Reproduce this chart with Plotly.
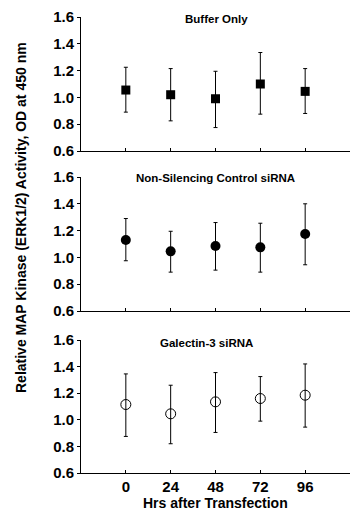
import plotly.graph_objects as go

hours = ["0", "24", "48", "72", "96"]

buffer_mean = [1.055, 1.02, 0.99, 1.10, 1.045]
buffer_hi = [1.225, 1.215, 1.195, 1.335, 1.215]
buffer_lo = [0.89, 0.825, 0.775, 0.875, 0.88]

nonsil_mean = [1.13, 1.045, 1.085, 1.075, 1.175]
nonsil_hi = [1.29, 1.195, 1.26, 1.255, 1.40]
nonsil_lo = [0.975, 0.89, 0.905, 0.89, 0.945]

gal_mean = [1.115, 1.045, 1.135, 1.16, 1.185]
gal_hi = [1.345, 1.26, 1.355, 1.325, 1.42]
gal_lo = [0.875, 0.82, 0.905, 0.99, 0.945]

panel_titles = ["Buffer Only", "Non-Silencing Control siRNA", "Galectin-3 siRNA"]
y_ticks = [0.6, 0.8, 1.0, 1.2, 1.4, 1.6]
y_ticklabels = ["0.6", "0.8", "1.0", "1.2", "1.4", "1.6"]

FONT = "Liberation Sans, Arial, sans-serif"
xs = list(range(len(hours)))

series = [
    (buffer_mean, buffer_hi, buffer_lo, dict(symbol="square", size=9, color="black")),
    (nonsil_mean, nonsil_hi, nonsil_lo, dict(symbol="circle", size=10, color="black")),
    (gal_mean, gal_hi, gal_lo, dict(symbol="circle-open", size=10, color="black", line=dict(width=1))),
]

fig = go.Figure()
for i, (m, hi, lo, mk) in enumerate(series):
    suffix = "" if i == 0 else str(i + 1)
    fig.add_trace(go.Scatter(
        x=xs, y=m, mode="markers", marker=mk,
        error_y=dict(type="data", symmetric=False,
                     array=[h - v for h, v in zip(hi, m)],
                     arrayminus=[v - l for l, v in zip(lo, m)],
                     color="black", thickness=1, width=2),
        xaxis="x" + suffix, yaxis="y" + suffix, showlegend=False,
    ))

# plot area: x 81..350, panels y 17-151, 177-311, 340-473
L, T, B = 81, 17, 473
H = B - T
W = 350 - L
def dom(top, bot):
    return [(B - bot) / H, (B - top) / H]

domains = [dom(17, 151), dom(177, 311), dom(340, 473)]

layout = dict(
    width=350, height=513,
    margin=dict(l=L, r=0, t=T, b=513 - B),
    paper_bgcolor="white", plot_bgcolor="white",
    font=dict(family=FONT, color="black"),
    showlegend=False,
)
for i in range(3):
    suffix = "" if i == 0 else str(i + 1)
    last = i == 2
    layout["xaxis" + suffix] = dict(
        range=[-1, 5], domain=[0, 1], anchor="y" + suffix,
        tickmode="array", tickvals=xs, ticktext=hours if last else [""] * 5,
        showticklabels=last,
        ticks="inside", ticklen=3, tickcolor="black", tickwidth=1,
        showline=True, linecolor="black", linewidth=1,
        showgrid=False, zeroline=False, fixedrange=True, automargin=False,
        tickfont=dict(family=FONT, size=15, color="black", weight="bold"),
    )
    layout["yaxis" + suffix] = dict(
        range=[0.6, 1.6], domain=domains[i], anchor="x" + suffix,
        tickmode="array", tickvals=y_ticks, ticktext=y_ticklabels,
        ticks="outside", ticklen=3, tickcolor="black", tickwidth=1,
        showline=True, linecolor="black", linewidth=1,
        showgrid=False, zeroline=False, fixedrange=True, automargin=False,
        tickfont=dict(family=FONT, size=15, color="black", weight="bold"),
    )

fig.update_layout(**layout)

title_pos = [(216, 19), (215, 178), (206, 343)]
for t, (px, py) in zip(panel_titles, title_pos):
    fig.add_annotation(
        text="<b>" + t + "</b>", xref="paper", yref="paper",
        x=(px - L) / W, y=(B - py) / H, xanchor="center", yanchor="middle",
        showarrow=False, font=dict(family=FONT, size=11.5, color="black"),
    )

fig.add_annotation(
    text="<b>Hrs after Transfection</b>", xref="paper", yref="paper",
    x=(215 - L) / W, y=(B - 503) / H, xanchor="center", yanchor="middle",
    showarrow=False, font=dict(family=FONT, size=14, color="black"),
)

fig.add_annotation(
    text="<b>Relative MAP Kinase (ERK1/2) Activity, OD at 450 nm</b>",
    xref="paper", yref="paper", x=(21 - L) / W, y=(B - 218) / H,
    xanchor="center", yanchor="middle", textangle=-90, showarrow=False,
    font=dict(family=FONT, size=14, color="black"),
)

fig.write_html("out.html", config={"displayModeBar": False},
               post_script="document.body.style.margin='0';document.body.style.overflow='hidden';")
